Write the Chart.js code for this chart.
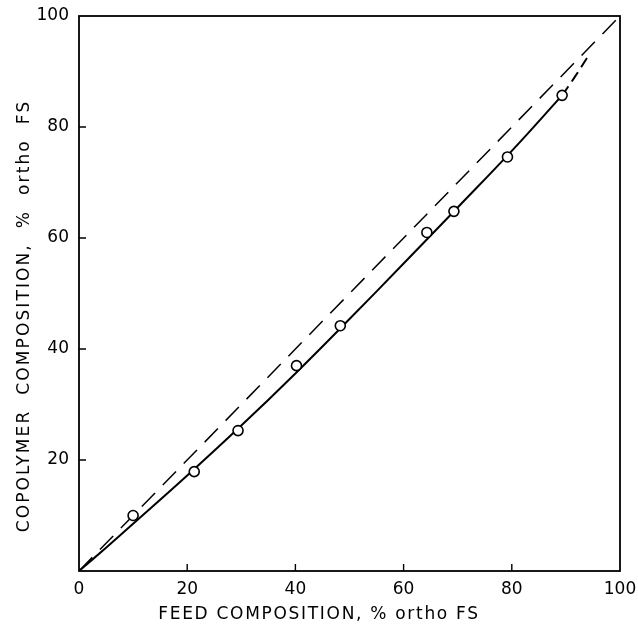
<!DOCTYPE html>
<html>
<head>
<meta charset="utf-8">
<script src="https://cdn.jsdelivr.net/npm/chart.js@4.4.1/dist/chart.umd.min.js"></script>
<style>
  html, body { margin: 0; padding: 0; background: #fff; }
  #wrap { width: 638px; height: 633px; }
</style>
</head>
<body>
<div id="wrap"><canvas id="chart" width="638" height="633"></canvas></div>
<script>
// measured points: feed composition vs copolymer composition (% ortho FS)
const feedPoints = [10, 21.3, 29.4, 40.2, 48.3, 64.3, 69.3, 79.2, 89.3];
const copolyPoints = [10, 17.9, 25.3, 37.0, 44.2, 61.0, 64.8, 74.6, 85.7];

// smooth fitted curve
const curveX = [0, 5, 10, 20, 30, 40, 50, 60, 70, 80, 89.3];
const curveY = [0, 4.2, 8.5, 17.2, 26.2, 35.6, 45.4, 55.4, 65.5, 75.7, 85.7];

// dashed extrapolation of the curve
const extX = [89.3, 91.5, 94];
const extY = [85.7, 88.8, 92.6];

// ideal (azeotropic) diagonal
const diagX = [0, 100];
const diagY = [0, 100];

const tickValues = [0, 20, 40, 60, 80, 100];

const xTitle = 'FEED COMPOSITION, % ortho FS';
const yTitle = 'COPOLYMER  COMPOSITION,  %  ortho  FS';

function toXY(xs, ys) {
    return xs.map((x, i) => ({ x: x, y: ys[i] }));
}

const FONT = "'DejaVu Sans', 'Liberation Sans', sans-serif";

// frame box, short inward ticks and the axis titles (wide lettering)
const framePlugin = {
    id: 'frame',
    afterDraw(chart) {
        const ctx = chart.ctx;
        const a = chart.chartArea;
        const xs = chart.scales.x, ys = chart.scales.y;
        ctx.save();
        ctx.strokeStyle = '#000';
        ctx.lineWidth = 1.8;
        ctx.strokeRect(a.left, a.top, a.right - a.left, a.bottom - a.top);
        ctx.lineWidth = 1.4;
        ctx.beginPath();
        tickValues.slice(1, -1).forEach(v => {
            const px = xs.getPixelForValue(v);
            ctx.moveTo(px, a.bottom);
            ctx.lineTo(px, a.bottom - 7);
            const py = ys.getPixelForValue(v);
            ctx.moveTo(a.left, py);
            ctx.lineTo(a.left + 7, py);
        });
        ctx.stroke();

        ctx.fillStyle = '#000';
        ctx.font = '17px ' + FONT;
        ctx.textAlign = 'center';
        ctx.textBaseline = 'middle';
        ctx.letterSpacing = '1.7px';
        ctx.fillText(xTitle, 319, 615);

        ctx.translate(25, 316);
        ctx.rotate(-Math.PI / 2);
        ctx.letterSpacing = '2.1px';
        ctx.fillText(yTitle, 0, 0);
        ctx.restore();
    }
};

new Chart(document.getElementById('chart'), {
    type: 'scatter',
    data: {
        datasets: [{
            label: 'diagonal',
            data: toXY(diagX, diagY),
            showLine: true,
            borderColor: '#000',
            borderWidth: 1.5,
            borderDash: [19, 11],
            pointRadius: 0,
            order: 3
        }, {
            label: 'curve',
            data: toXY(curveX, curveY),
            showLine: true,
            borderColor: '#000',
            borderWidth: 2,
            tension: 0.4,
            pointRadius: 0,
            order: 2
        }, {
            label: 'extension',
            data: toXY(extX, extY),
            showLine: true,
            borderColor: '#000',
            borderWidth: 2,
            borderDash: [11, 6],
            tension: 0.4,
            pointRadius: 0,
            order: 2
        }, {
            label: 'data',
            data: toXY(feedPoints, copolyPoints),
            showLine: false,
            pointRadius: 5,
            pointBackgroundColor: '#fff',
            pointBorderColor: '#000',
            pointBorderWidth: 1.6,
            order: 1
        }]
    },
    options: {
        responsive: false,
        animation: false,
        layout: { padding: { top: 16, right: 18, left: 0, bottom: 0 } },
        plugins: {
            legend: { display: false },
            tooltip: { enabled: false }
        },
        scales: {
            x: {
                type: 'linear',
                min: 0,
                max: 100,
                afterFit(scale) { scale.height = 62; },
                grid: { display: false },
                border: { display: false },
                ticks: {
                    stepSize: 20,
                    color: '#000',
                    padding: 0,
                    font: { family: FONT, size: 17 }
                }
            },
            y: {
                type: 'linear',
                min: 0,
                max: 100,
                afterFit(scale) { scale.width = 79; },
                grid: { display: false },
                border: { display: false },
                ticks: {
                    stepSize: 20,
                    color: '#000',
                    padding: 2,
                    font: { family: FONT, size: 17 },
                    callback: v => v === 0 ? '' : v
                }
            }
        }
    },
    plugins: [framePlugin]
});
</script>
</body>
</html>
